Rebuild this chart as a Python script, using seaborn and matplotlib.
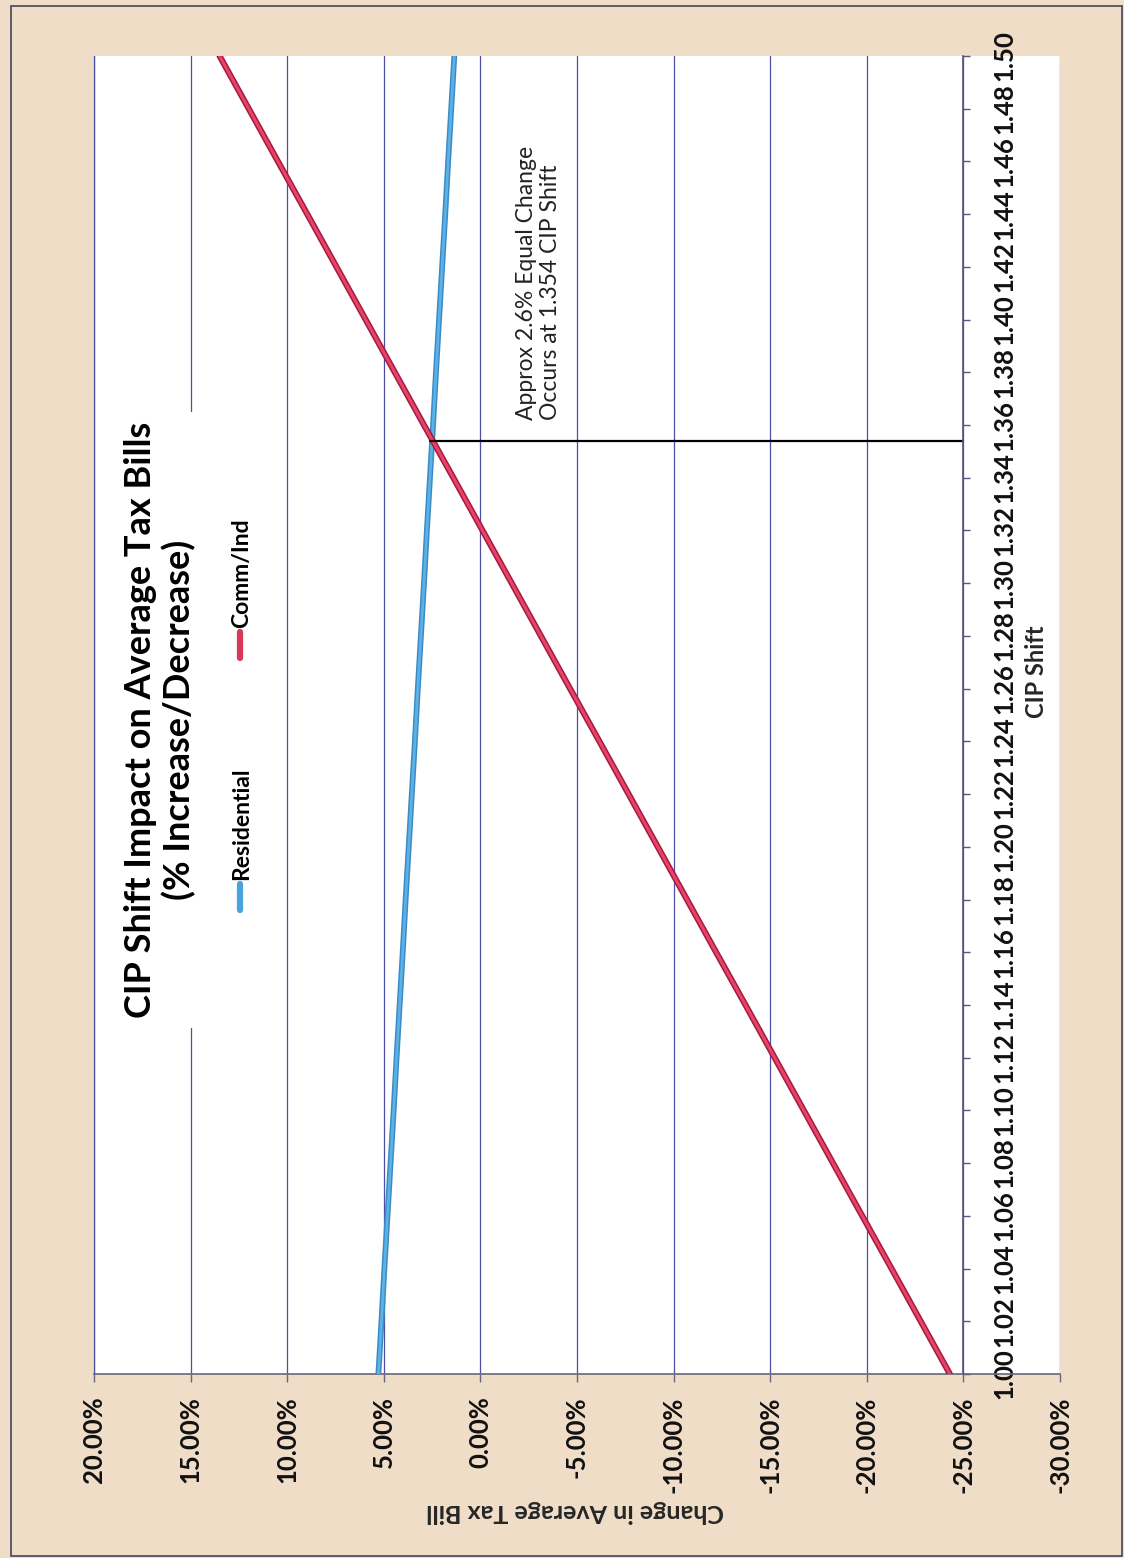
import matplotlib

matplotlib.use("Agg")
import matplotlib.pyplot as plt
import seaborn as sns
import pandas as pd
from matplotlib.lines import Line2D
from matplotlib.patches import Rectangle
from matplotlib.ticker import FixedLocator, FuncFormatter

# CIP shift categories (vertical axis once the page is turned)
cip_shift = [1.00, 1.02, 1.04, 1.06, 1.08, 1.10, 1.12, 1.14, 1.16, 1.18,
             1.20, 1.22, 1.24, 1.26, 1.28, 1.30, 1.32, 1.34, 1.36, 1.38,
             1.40, 1.42, 1.44, 1.46, 1.48, 1.50]

# % change in average tax bill
residential = [5.28, 5.12, 4.97, 4.81, 4.65, 4.49, 4.34, 4.18, 4.02, 3.87,
               3.71, 3.55, 3.39, 3.24, 3.08, 2.92, 2.77, 2.61, 2.45, 2.30,
               2.14, 1.98, 1.82, 1.67, 1.51, 1.35]
comm_ind = [-24.30, -22.79, -21.28, -19.76, -18.25, -16.74, -15.23, -13.72,
            -12.20, -10.69, -9.18, -7.67, -6.16, -4.64, -3.13, -1.62, -0.11,
            1.40, 2.92, 4.43, 5.94, 7.45, 8.96, 10.48, 11.99, 13.50]

pct_ticks = [20, 15, 10, 5, 0, -5, -10, -15, -20, -25, -30]
axis_cross = -25          # where the CIP axis sits on the % scale
equal_shift = 1.354
equal_change = 2.6

W, H = 1124, 1558
PAPER = "#F0DDC8"
GRID = "#4E4EA2"
FONT = ["Lato", "DejaVu Sans"]

sns.set_theme(style="white")
plt.rcParams["font.family"] = FONT
plt.rcParams["font.weight"] = "bold"

fig = plt.figure(figsize=(W / 100, H / 100), dpi=100, facecolor=PAPER)
fig.patches.append(Rectangle((11 / W, 2 / H), 1111 / W, 1550 / H,
                             transform=fig.transFigure, fill=False,
                             edgecolor="#454558", lw=1.2))

left, right, top, bottom = 94, 1060, 56, 1374
ax = fig.add_axes([left / W, 1 - bottom / H, (right - left) / W, (bottom - top) / H])
ax.set_facecolor("white")

df = pd.DataFrame({"cip": cip_shift, "Residential": residential, "Comm/Ind": comm_ind})

# two passes per series to get Excel's edged line look
sns.lineplot(data=df, x="Residential", y="cip", orient="y", sort=False,
             color="#3A8CC8", lw=4.2, ax=ax, zorder=4)
sns.lineplot(data=df, x="Residential", y="cip", orient="y", sort=False,
             color="#5DB2E3", lw=2.0, ax=ax, zorder=4)
sns.lineplot(data=df, x="Comm/Ind", y="cip", orient="y", sort=False,
             color="#A8164A", lw=4.4, ax=ax, zorder=5)
sns.lineplot(data=df, x="Comm/Ind", y="cip", orient="y", sort=False,
             color="#E4465F", lw=2.2, ax=ax, zorder=5)

ax.set_xlim(20, -30)
ax.set_ylim(cip_shift[0], cip_shift[-1])

ax.xaxis.set_major_locator(FixedLocator(pct_ticks))
ax.xaxis.set_major_formatter(FuncFormatter(lambda v, _: f"{v:.2f}%"))
ax.grid(axis="x", color=GRID, lw=0.9)
ax.grid(axis="y", visible=False)

ax.yaxis.tick_right()
ax.yaxis.set_major_locator(FixedLocator(cip_shift))
ax.yaxis.set_major_formatter(FuncFormatter(lambda v, _: f"{v:.2f}"))
ax.spines["right"].set_position(("data", axis_cross))
ax.spines["right"].set_color("#55557A")
ax.spines["right"].set_linewidth(1.2)
ax.spines["right"].set_zorder(6)
ax.spines["top"].set_visible(False)
ax.spines["left"].set_color(GRID)
ax.spines["left"].set_linewidth(0.9)
ax.spines["bottom"].set_color("#66667A")
ax.spines["bottom"].set_linewidth(1.2)

ax.tick_params(axis="x", direction="out", length=6, width=1, color="#66667A",
               pad=10, labelsize=18.5, labelrotation=90, bottom=True,
               labelcolor="#111111")
ax.tick_params(axis="y", direction="out", length=5, width=1, color="#55557A",
               pad=16, labelsize=18.5, labelrotation=90, right=True, left=False,
               labelcolor="#111111")
for lab in ax.get_yticklabels():
    lab.set_ha("left")
    lab.set_va("center")
ax.set_xlabel("")
ax.set_ylabel("")

# drop line from the crossing point to the CIP axis
ax.plot([equal_change, axis_cross], [equal_shift, equal_shift],
        color="black", lw=1.6, zorder=6)
ax.text(-3.0, 1.362, f"Approx {equal_change}% Equal Change\nOccurs at {equal_shift} CIP Shift",
        rotation=90, ha="center", va="bottom", multialignment="left",
        fontsize=16.5, fontweight="normal", color="#222222")

# title, legend and axis titles are turned with the page
fig.text(160 / W, 1 - 720 / H,
         "CIP Shift Impact on Average Tax Bills\n(% Increase/Decrease)",
         rotation=90, ha="center", va="center", multialignment="center",
         fontsize=26, fontweight="bold", color="black", linespacing=1.15,
         bbox=dict(facecolor="white", edgecolor="none", pad=7))

legend_items = [("Residential", "#4AA3DC", 910), ("Comm/Ind", "#D63A5A", 658)]
for name, col, ystart in legend_items:
    fig.add_artist(Line2D([240 / W, 240 / W], [1 - ystart / H, 1 - (ystart - 26) / H],
                          transform=fig.transFigure, color=col, lw=4.5,
                          solid_capstyle="round"))
    fig.text(242 / W, 1 - (ystart - 30) / H, name, rotation=90, ha="center",
             va="bottom", fontsize=16.5, fontweight="bold", color="black")

fig.text(1036 / W, 1 - 672 / H, "CIP Shift", rotation=90, ha="center",
         va="center", fontsize=17, fontweight="bold")
fig.text(575 / W, 1 - 1512 / H, "Change in Average Tax Bill", rotation=180,
         ha="center", va="center", fontsize=18, fontweight="bold")

fig.savefig("out.png", dpi=100, facecolor=PAPER)
